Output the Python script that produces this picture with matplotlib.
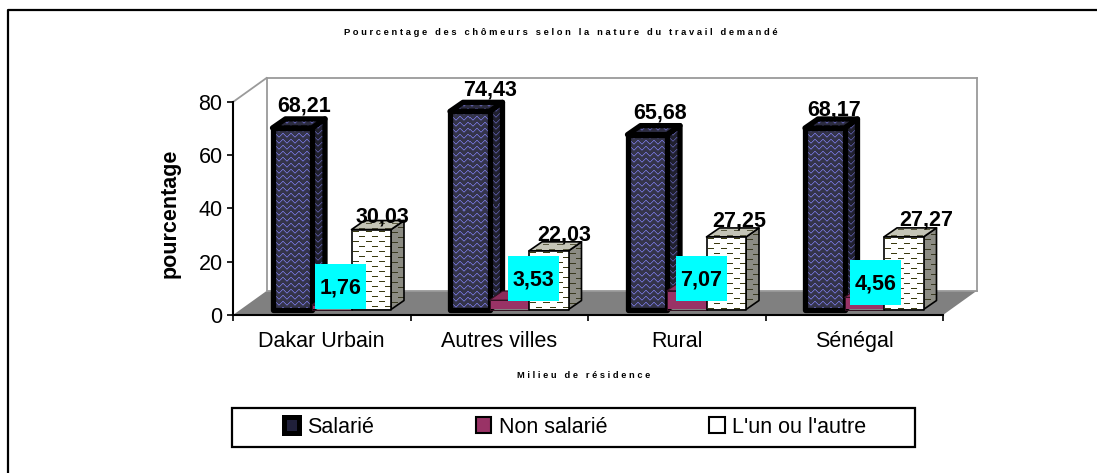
import numpy as np
import matplotlib
matplotlib.use("Agg")
import matplotlib.pyplot as plt
from matplotlib.patches import Polygon, Rectangle, Patch
from matplotlib.lines import Line2D
from matplotlib.transforms import Affine2D

plt.rcParams['font.family'] = ['Liberation Sans', 'DejaVu Sans']

categories = ["Dakar Urbain", "Autres villes", "Rural", "Sénégal"]
series_names = ["Salarié", "Non salarié", "L'un ou l'autre"]
salarie = [68.21, 74.43, 65.68, 68.17]
non_salarie = [1.76, 3.53, 7.07, 4.56]
autre = [30.03, 22.03, 27.25, 27.27]
y_ticks = [0, 20, 40, 60, 80]

title = "P o u r c e n t a g e   d e s   c h ô m e u r s   s e l o n   l a   n a t u r e   d u   t r a v a i l   d e m a n d é"
xlabel = "M i l i e u   d e   r é s i d e n c e"
ylabel = "pourcentage"

W, H = 1097, 473
fig = plt.figure(figsize=(W / 100, H / 100), dpi=100, facecolor="white")
px = Affine2D().scale(1, -1).translate(0, H)   # figure pixels, y downwards

X0, X1, Y80, Y0 = 233, 943, 102, 315
ax = fig.add_axes([X0 / W, (H - Y0) / H, (X1 - X0) / W, (Y0 - Y80) / H])
ax.patch.set_alpha(0)
PX_X = (X1 - X0) / 4
PX_Y = (Y0 - Y80) / 80


def ddx(p):
    return p / PX_X


def ddy(p):
    return p / PX_Y


# page frame (top and left only)
fig.add_artist(Line2D([8, 8, W], [H, 10, 10], color="black", lw=1.6, transform=px))

# walls and floor
wx, wy = ddx(33.5), ddy(24)
ax.add_patch(Polygon([(0, 0), (wx, wy), (4 + wx, wy), (4, 0)], closed=True, fc="#808080",
                     ec="none", clip_on=False, zorder=1))
for xs, ys in [([0, wx], [80, 80 + wy]), ([wx, wx], [wy, 80 + wy]),
               ([wx, 4 + wx], [80 + wy, 80 + wy]), ([4 + wx, 4 + wx], [80 + wy, wy]),
               ([wx, 4 + wx], [wy, wy])]:
    ax.add_line(Line2D(xs, ys, color="#9a9a9a", lw=1.3, clip_on=False, zorder=1.5))


def wave_tile(bg, line, under):
    t = np.zeros((6, 8, 3))
    t[:] = matplotlib.colors.to_rgb(bg)
    shape = [1, 0, 0, 1, 2, 3, 3, 2]
    for c, r in enumerate(shape):
        t[r, c] = matplotlib.colors.to_rgb(line)
        t[(r + 1) % 6, c] = matplotlib.colors.to_rgb(under)
    return t


def dash_tile(bg, dash):
    t = np.zeros((10, 13, 3))
    t[:] = matplotlib.colors.to_rgb(bg)
    t[2, 1:7] = matplotlib.colors.to_rgb(dash)
    t[7, 7:13] = matplotlib.colors.to_rgb(dash)
    return t


def fill_tex(poly_pts, tile, z):
    pts = np.array(poly_pts)
    xa, xb, ya, yb = pts[:, 0].min(), pts[:, 0].max(), pts[:, 1].min(), pts[:, 1].max()
    nx = max(int(round((xb - xa) * PX_X)), 1)
    ny = max(int(round((yb - ya) * PX_Y)), 1)
    rows = np.resize(np.arange(tile.shape[0]), ny)
    cols = np.resize(np.arange(tile.shape[1]), nx)
    img = tile[np.ix_(rows, cols)]
    im = ax.imshow(img, extent=(xa, xb, ya, yb), origin="upper", aspect="auto",
                   interpolation="nearest", zorder=z)
    clip = Polygon(poly_pts, closed=True, transform=ax.transData, fc="none", ec="none")
    im.set_clip_path(clip)


styles = [
    dict(front=wave_tile("#34344a", "#6c6cc4", "#44446e"), top=wave_tile("#2c2c40", "#5c5ca4", "#3a3a60"),
         side=wave_tile("#20202e", "#50508e", "#303050"), ec="black", lw=3.8),
    dict(front=np.array([[matplotlib.colors.to_rgb("#993366")]]), top=np.array([[matplotlib.colors.to_rgb("#8a2d5c")]]),
         side=np.array([[matplotlib.colors.to_rgb("#6e2448")]]), ec="#301020", lw=0.7),
    dict(front=dash_tile("#ffffff", "#3a3a10"), top=dash_tile("#c4c4b6", "#5a5a40"),
         side=dash_tile("#8c8c84", "#3a3a20"), ec="black", lw=1.2),
]

base = ddy(5.5)
bar_w = ddx(39.5)
start = ddx(39.5)
dep_x, dep_y = ddx(13), ddy(9)
z = 3.0
for i in range(len(categories)):
    for s, vals in enumerate([salarie, non_salarie, autre]):
        v = vals[i]
        st = styles[s]
        x0 = i + start + s * bar_w
        x1 = x0 + bar_w
        top = base + v
        side = [(x1, base), (x1 + dep_x, base + dep_y), (x1 + dep_x, top + dep_y), (x1, top)]
        roof = [(x0, top), (x0 + dep_x, top + dep_y), (x1 + dep_x, top + dep_y), (x1, top)]
        front = [(x0, base), (x0, top), (x1, top), (x1, base)]
        for pts, tile in [(side, st["side"]), (roof, st["top"]), (front, st["front"])]:
            fill_tex(pts, tile, z)
            z += 0.01
            ax.add_patch(Polygon(pts, closed=True, fc="none", ec=st["ec"], lw=st["lw"],
                                 joinstyle="round", zorder=z, clip_on=False))
            z += 0.01

# value labels above the tall and the light bars (pixel nudges from the bar centre/top)
top_nudges = {0: [(11.5, 22), (20, 21.5), (13, 22), (9, 18)],
              2: [(10.7, 13), (15.6, 16), (13, 16), (22, 17)]}
LABEL_SIZE = 15.5
for s, vals in [(0, salarie), (2, autre)]:
    for i, v in enumerate(vals):
        cx = i + start + (s + 0.5) * bar_w
        nx, ny = top_nudges[s][i]
        ax.annotate(f"{v:.2f}".replace(".", ","), xy=(cx, base + v), xytext=(nx, ny),
                    textcoords="offset pixels", ha="center", va="center",
                    fontsize=LABEL_SIZE, fontweight="bold", color="black", zorder=20,
                    annotation_clip=False)

# cyan boxed labels for the small bars
cyan_centres = [(340.5, 286.5), (533, 278.5), (701, 278.5), (875.5, 282.5)]
for (cx, cy), v in zip(cyan_centres, non_salarie):
    fig.add_artist(Rectangle((cx - 25.5, cy - 22.5), 51, 45, fc="#00ffff", ec="none", transform=px, zorder=10))
    fig.text(cx, cy + 1, f"{v:.2f}".replace(".", ","), ha="center", va="center", fontsize=LABEL_SIZE,
             fontweight="bold", color="black", transform=px, zorder=11)

# axes
ax.set_xlim(0, 4)
ax.set_ylim(0, 80)
for sp in ("top", "right"):
    ax.spines[sp].set_visible(False)
for sp in ("left", "bottom"):
    ax.spines[sp].set_linewidth(1.5)
    ax.spines[sp].set_zorder(2)
ax.set_yticks(y_ticks)
ax.tick_params(axis="y", labelsize=15.5, length=4.5, width=1.2, pad=3)
ax.set_xticks(range(5))
ax.set_xticklabels([])
ax.tick_params(axis="x", which="major", length=4.5, width=1.2)
ax.set_xticks(np.arange(len(categories)) + 0.5, labels=categories, minor=True)
ax.tick_params(axis="x", which="minor", length=0, labelsize=15.5, pad=11.5)

fig.text(170, 213, ylabel, rotation=90, ha="center", va="center", fontsize=15.5, fontweight="bold", transform=px)
fig.text(561, 32, title, ha="center", va="center", fontsize=6.75, fontweight="bold", transform=px)
fig.text(584, 375, xlabel, ha="center", va="center", fontsize=6.7, fontweight="bold", transform=px)

# legend
fig.add_artist(Rectangle((232, 408), 683, 39, fc="white", ec="black", lw=1.6, transform=px, zorder=5))
handles = [Patch(fc="#20203a", ec="black", lw=3.6),
           Patch(fc="#993366", ec="black", lw=1.5),
           Patch(fc="white", ec="black", lw=1.5)]
leg = fig.legend(handles, series_names, ncol=3, loc="center", bbox_to_anchor=(575 / W, (H - 427) / H),
                 frameon=False, fontsize=15.5, handlelength=0.72, handleheight=0.72, handletextpad=0.34,
                 columnspacing=4.75, borderpad=0, borderaxespad=0)
leg.set_zorder(6)

fig.savefig("out.png", dpi=100)
